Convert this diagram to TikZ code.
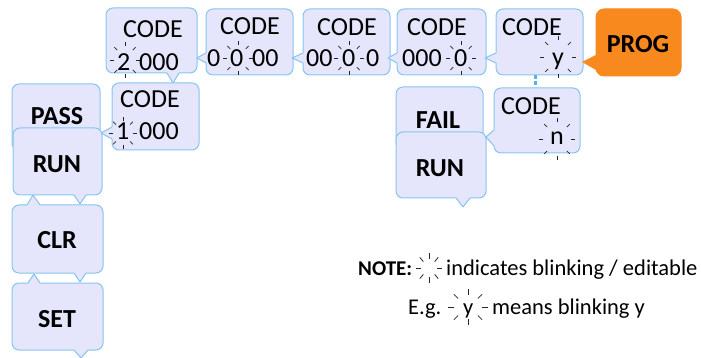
\documentclass[tikz,border=0pt]{standalone}
\usepackage{fontspec}
\setmainfont{Carlito}
\usetikzlibrary{calc}
\definecolor{bord}{HTML}{86C5EE}
\definecolor{boxf}{HTML}{E5E5FB}
\definecolor{progf}{HTML}{F7891F}
\definecolor{conn}{HTML}{5AB3E6}
\tikzset{
  box/.style={draw=bord, fill=boxf, rounded corners=7pt, line width=1pt, inner sep=0pt},
  progbox/.style={draw=progf, fill=progf, rounded corners=8pt, line width=1pt, inner sep=0pt},
  bordline/.style={line width=1pt, line join=round},
  lab/.style={font=\bfseries\fontsize{26}{30}\selectfont, inner sep=0pt, anchor=base},
  codetxt/.style={font=\fontsize{26}{30}\selectfont, inner sep=0pt, anchor=base},
  digit/.style={font=\fontsize{26}{30}\selectfont, inner sep=0pt, anchor=base west},
  notetxt/.style={font=\fontsize{22.5}{26}\selectfont, inner sep=0pt, anchor=base west},
  notebold/.style={font=\bfseries\fontsize{21}{26}\selectfont, inner sep=0pt, anchor=base west},
  blinkline/.style={line width=0.8pt, black!85},
  connline/.style={draw=conn, line width=3pt, dash pattern=on 4pt off 2pt},
}
\newcommand\calltail[6]{%
  \fill[#1] ($#3+#6$) -- #3 -- #4 -- #5 -- ($#5+#6$) -- cycle;
  \draw[bordline, draw=#2] #3 -- #4 -- #5;}
\newcommand\blink[6]{%
  \foreach \a in {0,45,...,315}
    \draw[blinkline, shift={(#1,#2)}] (\a:#3pt and #4pt) -- (\a:#5pt and #6pt);}
\begin{document}
\begin{tikzpicture}[x=1pt,y=-1pt]
\useasboundingbox (0,0) rectangle (701,358);

% top row
\node[box, minimum width=91pt, minimum height=65pt] (b2) at (151.5,40.5) {};
\calltail{boxf}{bord}{(167,73)}{(173,83)}{(179,73)}{(0,-1.5)}
\node[box, minimum width=87pt, minimum height=66pt] (b3) at (249.5,42) {};
\calltail{boxf}{bord}{(206,53)}{(197,58)}{(206,63)}{(1.5,0)}
\node[box, minimum width=87pt, minimum height=66pt] (b4) at (346.5,42) {};
\calltail{boxf}{bord}{(303,53)}{(292,58)}{(303,63)}{(1.5,0)}
\node[box, minimum width=89pt, minimum height=66pt] (b5) at (441.5,42) {};
\calltail{boxf}{bord}{(397,53)}{(388,58)}{(397,63)}{(1.5,0)}
\node[box, minimum width=87pt, minimum height=66pt] (b6) at (539.5,42) {};
\calltail{boxf}{bord}{(496,53)}{(485,58)}{(496,63)}{(1.5,0)}
\node[progbox, minimum width=85pt, minimum height=67pt] (prog) at (638.5,42.5) {};
\calltail{progf}{progf}{(597,55)}{(583,62)}{(597,70)}{(1.5,0)}

% second box of left column
\node[box, minimum width=87pt, minimum height=67pt] (b1) at (155.5,116.5) {};
\calltail{boxf}{bord}{(112,127)}{(101,133)}{(112,139)}{(1.5,0)}

% left column
\node[box, minimum width=88pt, minimum height=66pt] (pass) at (56,117) {};
\node[box, minimum width=89pt, minimum height=67pt] (run1) at (57.5,161.5) {};
\calltail{boxf}{bord}{(74,195)}{(80,204)}{(86,195)}{(0,-1.5)}
\node[box, minimum width=91pt, minimum height=68pt] (clr) at (57.5,239) {};
\calltail{boxf}{bord}{(27,205)}{(33,195)}{(40,205)}{(0,1.5)}
\calltail{boxf}{bord}{(74,273)}{(80,282)}{(86,273)}{(0,-1.5)}
\node[box, minimum width=91pt, minimum height=67pt] (set) at (57.5,316.5) {};
\calltail{boxf}{bord}{(28,283)}{(34,274)}{(40,283)}{(0,1.5)}
\calltail{boxf}{bord}{(74,350)}{(81,358)}{(88,350)}{(0,-1.5)}

% right group
\node[box, minimum width=87pt, minimum height=63pt] (fail) at (439.5,118.5) {};
\node[box, minimum width=90pt, minimum height=66pt] (run2) at (441,165) {};
\calltail{boxf}{bord}{(456,198)}{(463,207)}{(470,198)}{(0,-1.5)}
\node[box, minimum width=86pt, minimum height=65pt] (b7) at (537,120.5) {};
\calltail{boxf}{bord}{(494,130)}{(486,137)}{(494,146)}{(1.5,0)}

% connector
\draw[connline] ([xshift=-4.5pt]b6.south) -- ([xshift=-2pt]b7.north);

% texts
\node[codetxt] (b2t) at (153,38) {CODE};
\node[digit] (b2d1) at (117,71) {2};
\node[digit] (b2d2) at (139,71) {000};
\node[codetxt] (b1t) at (150,108) {CODE};
\node[digit] (b1d1) at (116,140) {1};
\node[digit] (b1d2) at (139,140) {000};
\node[codetxt] (b3t) at (250,35) {CODE};
\node[digit] (b3d1) at (207,67) {0};
\node[digit] (b3d2) at (230,67) {0};
\node[digit] (b3d3) at (252,67) {00};
\node[codetxt] (b4t) at (347,36) {CODE};
\node[digit] (b4d1) at (306,67) {00};
\node[digit] (b4d2) at (342,67) {0};
\node[digit] (b4d3) at (366,67) {0};
\node[codetxt] (b5t) at (437,36) {CODE};
\node[digit] (b5d1) at (402,67) {000};
\node[digit] (b5d2) at (454,67) {0};
\node[digit] (b6t) at (502,36) {CODE};
\node[digit] (b6d) at (552,66) {y};
\node[digit] (b7t) at (501,115) {CODE};
\node[digit] (b7d) at (550,145) {n};
\node[lab] (progt) at (638,53) {PROG};
\node[lab] (passt) at (57,125) {PASS};
\node[lab] (run1t) at (57,173) {RUN};
\node[lab] (clrt) at (57,248) {CLR};
\node[lab] (sett) at (57,327) {SET};
\node[lab] (failt) at (438,129) {FAIL};
\node[lab] (run2t) at (440,177) {RUN};

% blinking marks
\blink{125}{60}{11}{14}{15}{18}
\blink{123}{133}{10}{12}{14}{16}
\blink{238}{58}{11}{13}{15}{17}
\blink{349}{58}{11}{13}{15}{17}
\blink{461}{58}{11}{13}{15}{17}
\blink{558}{57}{14}{17}{18}{21}
\blink{557}{139}{14}{17}{18}{21}

% note
\node[notebold] (note) at (358,275) {NOTE:};
\blink{429}{268}{8}{9}{13}{15}
\node[notetxt] (notet) at (446,275) {indicates blinking / editable};
\node[notetxt] (eg) at (408,314) {E.g.};
\node[notetxt] (egy) at (463,314) {y};
\blink{468}{307}{14}{12}{20}{18}
\node[notetxt] (egt) at (492,314) {means blinking y};
\end{tikzpicture}
\end{document}
